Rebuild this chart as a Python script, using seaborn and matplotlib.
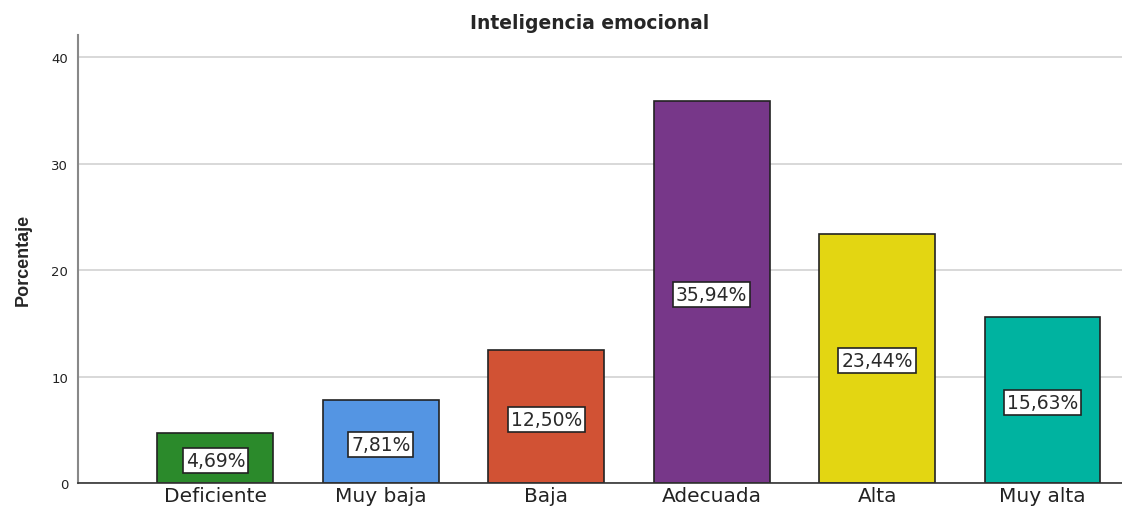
import numpy as np
import pandas as pd
import seaborn as sns
from matplotlib import pyplot as plt

sns.set_style('white')
plt.rcParams['font.family'] = ['DejaVu Sans']

categorias = ['Deficiente', 'Muy baja', 'Baja', 'Adecuada', 'Alta', 'Muy alta']
porcentaje = [4.69, 7.81, 12.50, 35.94, 23.44, 15.63]
colores = ['#2b8a2b', '#5495e3', '#d15234', '#773789', '#e3d612', '#00b3a0']

df = pd.DataFrame({'nivel': categorias, 'pct': porcentaje})

fig = plt.figure(figsize=(11.22, 5.10), dpi=100)
ax = fig.add_axes([78 / 1122, 1 - 484 / 510, 1 - 78 / 1122, (484 - 36) / 510])

g = sns.barplot(data=df, x='nivel', y='pct', hue='nivel', palette=colores,
                legend=False, width=0.70, edgecolor='#222222', linewidth=1.2,
                saturation=1, ax=ax)

# etiquetas con caja blanca, a media altura de cada barra
for i, v in enumerate(porcentaje):
    ax.text(i, v / 2 - 0.25, f'{v:.2f}%'.replace('.', ','), ha='center', va='center',
            fontsize=13.5, color='#2a2a2a',
            bbox=dict(boxstyle='square,pad=0.16', fc='white', ec='#222222', lw=1.2))

ax.set_xlim(-0.83, 5.48)
ax.set_ylim(0, 42.1)
ax.set_yticks([0, 10, 20, 30, 40])
ax.yaxis.grid(True, color='#d2d2d2', lw=1.2)
ax.set_axisbelow(True)
ax.tick_params(axis='y', labelsize=9.5, length=0, pad=7, colors='#222222')
ax.tick_params(axis='x', labelsize=14.5, length=0, pad=2, colors='#222222')
ax.set_xlabel('')
ax.set_ylabel('Porcentaje', fontsize=13, fontweight='bold',
              family=['Liberation Sans Narrow', 'Liberation Sans'], labelpad=14)
ax.set_title('Inteligencia emocional', fontsize=13.5, fontweight='bold', pad=5, x=0.49)

for s in ['top', 'right']:
    ax.spines[s].set_visible(False)
ax.spines['left'].set_color('#888888')
ax.spines['left'].set_linewidth(1.5)
ax.spines['bottom'].set_color('#333333')
ax.spines['bottom'].set_linewidth(1.2)

plt.savefig('out.png', dpi=100)
